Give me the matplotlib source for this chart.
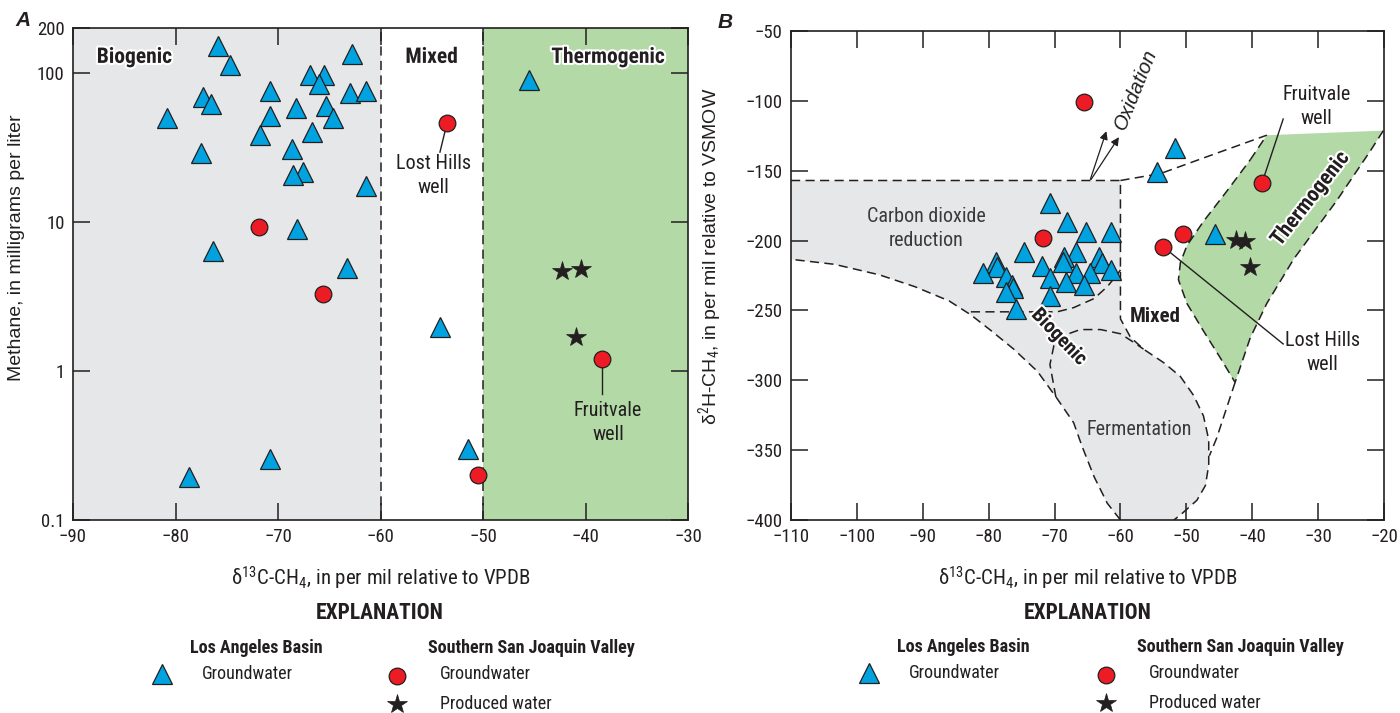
import numpy as np
import matplotlib
matplotlib.use("Agg")
import matplotlib.pyplot as plt
from matplotlib import font_manager
import matplotlib.patheffects as pe
from matplotlib.ticker import FixedLocator, FixedFormatter, NullLocator

# ---------------- data: panel A (methane vs d13C) ----------------
la_c13 = [-75.9, -74.7, -62.8, -80.8, -77.3, -76.5, -70.8, -66.9, -65.5, -66.0, -63.0, -61.4,
          -70.8, -68.2, -65.3, -64.6, -71.8, -66.7, -77.5, -68.6, -67.6, -68.5, -61.4, -68.1,
          -76.3, -63.3, -54.2, -51.5, -70.8, -78.7, -45.5]
la_ch4 = [152, 113, 134, 50, 68.5, 61.8, 75, 96.7, 97, 83.6, 73, 76,
          51.4, 58, 59.6, 49.6, 38.2, 40.2, 29, 31, 21.7, 20.7, 17.5, 9.0,
          6.4, 4.9, 1.96, 0.30, 0.256, 0.195, 89]
sj_gw_c13 = [-53.5, -71.9, -65.6, -38.4, -50.5]
sj_gw_ch4 = [46.3, 9.2, 3.3, 1.2, 0.20]
sj_pw_c13 = [-42.3, -40.4, -40.9]
sj_pw_ch4 = [4.7, 4.8, 1.7]

# ---------------- data: panel B (d2H vs d13C) ----------------
la_b_c13 = [-70.7, -68.1, -65.3, -61.4, -74.7, -66.8, -68.6, -68.7, -63.3, -62.8, -78.9, -78.8,
            -80.8, -71.9, -66.8, -64.6, -61.4, -77.4, -70.7, -76.4, -76.3, -77.3, -68.3, -65.6,
            -70.7, -75.8, -54.4, -51.7, -45.6]
la_b_d2h = [-173, -187, -194, -194, -208, -208, -212, -215, -212, -216, -215, -219,
            -223, -218, -223, -223, -221, -226, -227, -232, -234, -237, -230, -232,
            -240, -249, -151, -134, -195]
sj_b_gw_c13 = [-65.6, -71.8, -53.5, -50.5, -38.5]
sj_b_gw_d2h = [-101, -198, -204.5, -195.6, -158.6]
sj_b_pw_c13 = [-42.4, -41.1, -40.4]
sj_b_pw_d2h = [-199.3, -200, -218.7]

# field boundaries in panel B (d13C, d2H)
bio_x = [-110, -60, -60, -58.5, -56.5, -53.4, -50.9, -48.9, -47.4, -46.6, -46.6, -47.1, -48.4, -50.9, -51.9,
         -60, -62, -64, -65.8, -67.1, -69.6, -72.6, -76.2, -79.7, -82.7, -86.0, -91.2, -96.6, -103.4, -110]
bio_y = [-157, -157, -256, -269, -277.7, -287.5, -297.3, -310.8, -325.5, -342.6, -360.6, -375.3, -385.9, -396.4, -400,
         -400, -388, -369, -347.6, -330.4, -313.2, -293.6, -277.7, -264.2, -253.2, -243.2, -233, -224.5, -217, -213.4]
co2_x = [-82.7, -69.6, -67.1, -64.0, -62.0, -60.5, -60.0]
co2_y = [-251, -251, -248, -241.5, -233, -224.4, -221]
ferm_x = [-69.8, -70.7, -70.1, -68.6, -66.1, -63.0, -60.0, -58.0, -56.5]
ferm_y = [-312, -288.7, -275.2, -267.9, -263.7, -263.7, -266.7, -272.8, -277.7]
thermo_x = [-37.8, -20.1, -22.1, -27.2, -33.7, -37.8, -40.3, -42.6,
            -44.8, -47.4, -49.9, -51.2, -50.9, -49.9, -47.4, -43.8, -40.3]
thermo_y = [-124.6, -121.3, -136, -171.6, -213.2, -245.1, -269.6, -301.5,
            -284.3, -264.7, -245.1, -228, -215.7, -203.5, -186.3, -164.3, -142.2]
mix_top_x = [-60, -53.9, -45.3, -37.8]
mix_top_y = [-157, -152, -137.3, -124.6]
mix_low_x = [-42.6, -45.4, -46.5]
mix_low_y = [-301.5, -341.4, -354]

# ---------------- fonts ----------------
stretches = {}
for f in font_manager.fontManager.ttflist:
    st = f.stretch
    if isinstance(st, str):
        st = font_manager.stretch_dict.get(st, 500)
    stretches.setdefault(f.name, set()).add(st)

NARROW, STRETCH = 'DejaVu Sans', 500
for nm in ['Liberation Sans Narrow', 'Roboto Condensed', 'Open Sans Condensed',
           'Noto Sans', 'Open Sans', 'Roboto', 'DejaVu Sans']:
    if nm not in stretches:
        continue
    if 'Narrow' in nm or 'Condensed' in nm:
        NARROW, STRETCH = nm, 500
        break
    narrow = sorted(s for s in stretches[nm] if s < 500)
    if narrow:
        NARROW = nm
        STRETCH = 300 if 300 in narrow else narrow[-1]
        break
REG = 'Liberation Sans'
plt.rcParams['axes.unicode_minus'] = True
plt.rcParams['mathtext.fontset'] = 'custom'
plt.rcParams['mathtext.rm'] = NARROW
plt.rcParams['mathtext.it'] = NARROW

INK = '#231f20'
GREY = '#e6e7e8'
GREEN = '#b2d9a6'
BLUE = '#00a3e0'
RED = '#ed1c24'
DASH = (0, (6, 3.5))
halo = [pe.withStroke(linewidth=3, foreground='white')]
NF = dict(fontfamily=NARROW, fontstretch=STRETCH)

tri = dict(marker='^', ms=14, mfc=BLUE, mec=INK, mew=0.9, ls='none', zorder=5)
circ = dict(marker='o', ms=12, mfc=RED, mec=INK, mew=0.9, ls='none', zorder=6)
star = dict(marker='*', ms=15, mfc=INK, mec=INK, mew=0.5, ls='none', zorder=6)

fig = plt.figure(figsize=(14, 7.13), dpi=100)
axA = fig.add_axes([73 / 1400, 1 - 520 / 713, 615 / 1400, 492 / 713])
axB = fig.add_axes([791 / 1400, 1 - 520 / 713, 593 / 1400, 489 / 713])


def style_axes(ax):
    for s in ax.spines.values():
        s.set_linewidth(1.2)
        s.set_color(INK)
    ax.tick_params(which='major', direction='in', length=12, width=1.1, color=INK,
                   top=True, right=True, labelsize=13.5, labelcolor=INK, pad=6)
    for lab in ax.get_xticklabels() + ax.get_yticklabels():
        lab.set_fontfamily(NARROW)
        lab.set_fontstretch(STRETCH)


def xlabel_c13(ax):
    ax.set_xlabel('δ$^{13}$C-CH$_{4}$, in per mil relative to VPDB', fontsize=15,
                  color=INK, labelpad=13, **NF)


# ---------------- panel A ----------------
axA.set_xlim(-90, -30)
axA.set_yscale('log')
axA.set_ylim(0.1, 200)
axA.axvspan(-90, -60, color=GREY, lw=0, zorder=0)
axA.axvspan(-50, -30, color=GREEN, lw=0, zorder=0)
axA.axvline(-60, color=INK, lw=1.1, ls=DASH, zorder=1)
axA.axvline(-50, color=INK, lw=1.1, ls=DASH, zorder=1)
axA.plot(la_c13, la_ch4, **tri)
axA.plot(sj_gw_c13, sj_gw_ch4, **circ)
axA.plot(sj_pw_c13, sj_pw_ch4, **star)
axA.set_xticks([-90, -80, -70, -60, -50, -40, -30])
axA.yaxis.set_major_locator(FixedLocator([0.1, 1, 10, 100, 200]))
axA.yaxis.set_major_formatter(FixedFormatter(['0.1', '1', '10', '100', '200']))
axA.yaxis.set_minor_locator(NullLocator())
style_axes(axA)
axA.set_ylabel('Methane, in milligrams per liter', fontfamily=REG, fontsize=14, color=INK)
axA.yaxis.set_label_coords(-0.078, 0.553)
xlabel_c13(axA)
for txt, x in [('Biogenic', -84.0), ('Mixed', -55.0), ('Thermogenic', -37.8)]:
    axA.text(x, 128, txt, ha='center', va='center', fontsize=15.5, fontweight='bold',
             color=INK, path_effects=halo, zorder=7, **NF)
axA.plot([-53.5, -54.2], [46.3, 29.4], color=INK, lw=1, zorder=5)
axA.text(-54.8, 20.5, 'Lost Hills\nwell', ha='center', va='center', fontsize=14.5,
         color=INK, linespacing=1.3, **NF)
axA.plot([-38.4, -38.4], [1.2, 0.70], color=INK, lw=1, zorder=5)
axA.text(-37.8, 0.45, 'Fruitvale\nwell', ha='center', va='center', fontsize=14.5,
         color=INK, linespacing=1.3, **NF)
fig.text(15 / 1400, 1 - 20 / 713, 'A', fontsize=15, fontweight='bold', fontstyle='italic',
         fontfamily=REG, color=INK, va='center')

# ---------------- panel B ----------------
axB.set_xlim(-110, -20)
axB.set_ylim(-400, -50)
axB.fill(bio_x, bio_y, color=GREY, lw=0, zorder=0)
axB.fill(thermo_x, thermo_y, color=GREEN, lw=0, zorder=0)
dl = dict(color=INK, lw=1.1, ls=DASH, zorder=2)
axB.plot(bio_x[:15], bio_y[:15], **dl)
axB.plot(bio_x[15:], bio_y[15:], **dl)
axB.plot(co2_x, co2_y, **dl)
axB.plot(ferm_x, ferm_y, **dl)
axB.plot(thermo_x[1:], thermo_y[1:], **dl)
axB.plot(thermo_x[-1:] + thermo_x[:1], thermo_y[-1:] + thermo_y[:1], **dl)
axB.plot(mix_top_x, mix_top_y, **dl)
axB.plot(mix_low_x, mix_low_y, **dl)
axB.plot(la_b_c13, la_b_d2h, **tri)
axB.plot(sj_b_gw_c13, sj_b_gw_d2h, **circ)
axB.plot(sj_b_pw_c13, sj_b_pw_d2h, **star)
axB.set_xticks(np.arange(-110, -19, 10))
axB.set_yticks(np.arange(-400, -49, 50))
style_axes(axB)
axB.set_ylabel('δ$^{2}$H-CH$_{4}$, in per mil relative to VSMOW', fontfamily=REG,
               fontsize=14, color=INK)
axB.yaxis.set_label_coords(-0.113, 0.54)
xlabel_c13(axB)
# oxidation arrows
for tip in [(-62.0, -119.8), (-60.0, -124.3)]:
    axB.annotate('', xy=tip, xytext=(-64.7, -158),
                 arrowprops=dict(arrowstyle='-|>', color=INK, lw=0.9, mutation_scale=12), zorder=4)
axB.text(-57.6, -92, 'Oxidation', rotation=68, ha='center', va='center', fontsize=14.5,
         fontstyle='italic', fontfamily=REG, color=INK)
axB.text(-89.5, -191.5, 'Carbon dioxide\nreduction', ha='center', va='center', fontsize=14.5,
         color='#3a3a3a', linespacing=1.3, **NF)
axB.text(-57.2, -335, 'Fermentation', ha='center', va='center', fontsize=14.5,
         color='#3a3a3a', **NF)
axB.text(-69.3, -269, 'Biogenic', rotation=-46, ha='center', va='center', fontsize=14.5,
         fontweight='bold', color=INK, path_effects=halo, zorder=7, **NF)
axB.text(-54.7, -254, 'Mixed', ha='center', va='center', fontsize=15, fontweight='bold',
         color=INK, **NF)
axB.text(-31.2, -170, 'Thermogenic', rotation=52, ha='center', va='center', fontsize=15.5,
         fontweight='bold', color=INK, path_effects=halo, zorder=7, **NF)
axB.plot([-53.5, -35.3], [-204.5, -274], color=INK, lw=1, zorder=5)
axB.text(-29.3, -280, 'Lost Hills\nwell', ha='center', va='center', fontsize=14.5,
         color=INK, linespacing=1.3, **NF)
axB.plot([-38.5, -35.3], [-158.6, -113], color=INK, lw=1, zorder=5)
axB.text(-30.3, -104, 'Fruitvale\nwell', ha='center', va='center', fontsize=14.5,
         color=INK, linespacing=1.3, **NF)
fig.text(718 / 1400, 1 - 23 / 713, 'B', fontsize=15, fontweight='bold', fontstyle='italic',
         fontfamily=REG, color=INK, va='center')

# ---------------- explanation (legend) ----------------
lg = fig.add_axes([0, 0, 1, 1])
lg.set_xlim(0, 1400)
lg.set_ylim(713, 0)
lg.axis('off')
txt_kw = dict(color=INK, va='center', **NF)
for cx, tri_x, sj_x, y0 in [(380, 162, 397, 648), (1088, 869, 1106, 647)]:
    lg.text(cx, 613, 'EXPLANATION', ha='center', fontsize=15.5, fontweight='bold', **txt_kw)
    lg.text(tri_x + 94, y0, 'Los Angeles Basin', ha='center', fontsize=13, fontweight='bold', **txt_kw)
    lg.text(sj_x + 134, y0, 'Southern San Joaquin Valley', ha='center', fontsize=13,
            fontweight='bold', **txt_kw)
    lg.plot([tri_x], [y0 + 26], **tri)
    lg.text(tri_x + 40, y0 + 26, 'Groundwater', ha='left', fontsize=13, **txt_kw)
    lg.plot([sj_x], [y0 + 28], **circ)
    lg.text(sj_x + 43, y0 + 26, 'Groundwater', ha='left', fontsize=13, **txt_kw)
    lg.plot([sj_x], [y0 + 56], **star)
    lg.text(sj_x + 43, y0 + 56, 'Produced water', ha='left', fontsize=13, **txt_kw)

fig.savefig('out.png', dpi=100)
